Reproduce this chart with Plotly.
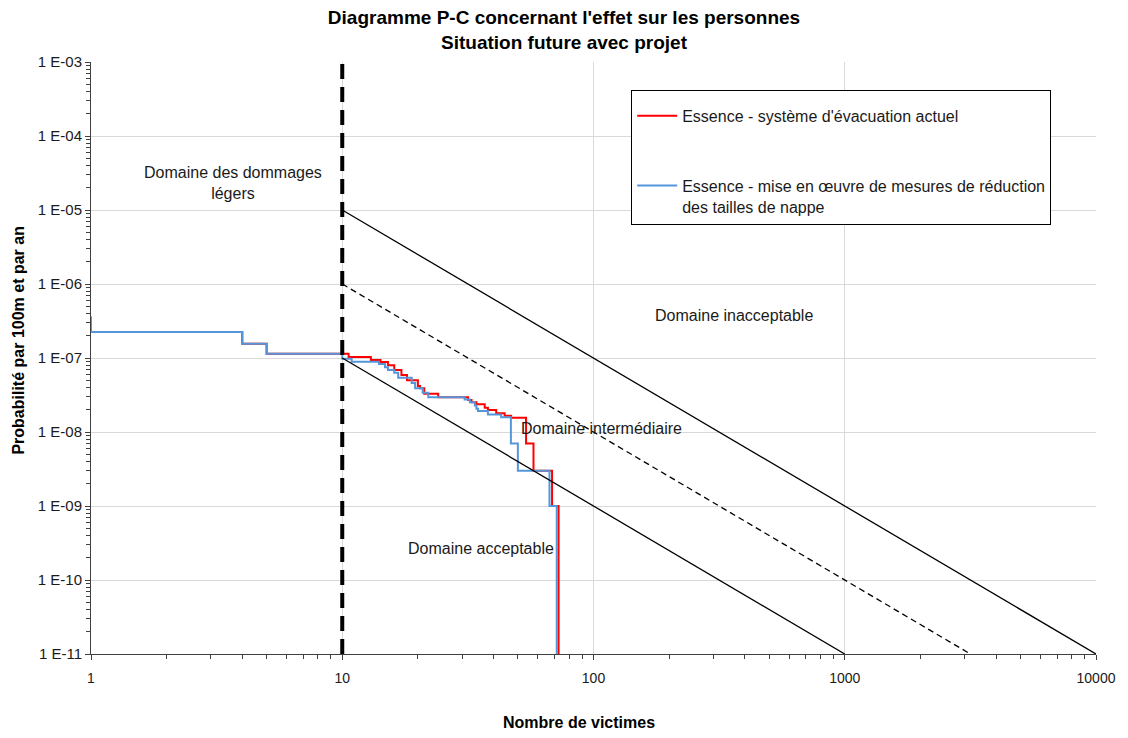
import plotly.graph_objects as go

# ---------------- data ----------------
# Essence - système d'évacuation actuel (step curve, level F holds from N onward)
red_N = [0.8, 1, 4, 5, 10.6, 13.0, 14.2, 15.2, 16.1, 17.2, 18.1, 20.0, 20.4, 21.2, 24.1,
         31.7, 32.7, 34.2, 36.9, 38.0, 41.0, 44.3, 47.0, 53.9, 57.7, 68.4, 72.6]
red_F = [3.5e-7, 2.25e-7, 1.56e-7, 1.14e-7, 1.03e-7, 9.4e-8, 8.8e-8, 8.0e-8, 6.9e-8, 5.9e-8,
         5.0e-8, 4.2e-8, 3.9e-8, 3.3e-8, 2.95e-8, 2.7e-8, 2.52e-8, 2.37e-8, 2.13e-8, 1.98e-8,
         1.79e-8, 1.66e-8, 1.56e-8, 7.0e-9, 3.0e-9, 1.0e-9, 1e-13]

# Essence - mise en œuvre de mesures de réduction des tailles de nappe
blue_N = [0.8, 1, 4, 5, 10, 10.9, 14.0, 14.8, 15.2, 16.1, 16.7, 18.9, 19.5, 20.9, 22.0,
          30.7, 32.2, 33.7, 34.2, 34.7, 38.0, 42.9, 46.9, 50.0, 66.8, 71.4]
blue_F = [3.5e-7, 2.25e-7, 1.56e-7, 1.14e-7, 9.8e-8, 8.9e-8, 8.3e-8, 7.5e-8, 6.9e-8, 6.3e-8,
          5.4e-8, 4.6e-8, 3.9e-8, 3.4e-8, 2.95e-8, 2.74e-8, 2.53e-8, 2.28e-8, 2.06e-8, 1.92e-8,
          1.73e-8, 1.58e-8, 7.0e-9, 3.0e-9, 1.0e-9, 1e-13]

# Criteria lines
upper_N = [10, 10000]
upper_F = [1e-5, 1e-11]
mid_N = [10, 3162.3]
mid_F = [1e-6, 1e-11]
lower_N = [10, 1000]
lower_F = [1e-7, 1e-11]
light_N = [10, 10]
light_F = [1e-11, 1e-3]

# Ticks
x_tickvals = [1, 10, 100, 1000, 10000]
x_ticktext = ["1", "10", "100", "1000", "10000"]
y_tickvals = [1e-3, 1e-4, 1e-5, 1e-6, 1e-7, 1e-8, 1e-9, 1e-10, 1e-11]
y_ticktext = ["1 E-03", "1 E-04", "1 E-05", "1 E-06", "1 E-07", "1 E-08", "1 E-09", "1 E-10", "1 E-11"]

name_red = "Essence - système d'évacuation actuel"
name_blue = "Essence - mise en œuvre de mesures de réduction<br>des tailles de nappe"

FONT = "Liberation Sans, Arial, sans-serif"

fig = go.Figure()

fig.add_trace(go.Scatter(x=red_N, y=red_F, mode="lines", line=dict(color="#FF0000", width=2, shape="hv"),
                         name=name_red, legendgroup="a"))
fig.add_trace(go.Scatter(x=blue_N, y=blue_F, mode="lines", line=dict(color="#5596DA", width=2, shape="hv"),
                         name=name_blue, legendgroup="b"))
fig.add_trace(go.Scatter(x=upper_N, y=upper_F, mode="lines", line=dict(color="black", width=1.3),
                         showlegend=False, hoverinfo="skip"))
fig.add_trace(go.Scatter(x=mid_N, y=mid_F, mode="lines", line=dict(color="black", width=1.3, dash="6px,4px"),
                         showlegend=False, hoverinfo="skip"))
fig.add_trace(go.Scatter(x=lower_N, y=lower_F, mode="lines", line=dict(color="black", width=1.3),
                         showlegend=False, hoverinfo="skip"))
fig.add_trace(go.Scatter(x=light_N, y=light_F, mode="lines", line=dict(color="black", width=4, dash="15px,8px"),
                         showlegend=False, hoverinfo="skip"))

annots = [
    dict(text="Domaine des dommages<br>légers", x=0.566, y=-4.63),
    dict(text="Domaine inacceptable", x=2.558, y=-6.42),
    dict(text="Domaine intermédiaire", x=2.03, y=-7.95),
    dict(text="Domaine acceptable", x=1.552, y=-9.57),
]
for a in annots:
    fig.add_annotation(x=a["x"], y=a["y"], xref="x", yref="y", text=a["text"], showarrow=False,
                       font=dict(size=16, color="#1a1a1a", family=FONT))

# axis titles
fig.add_annotation(text="<b>Nombre de victimes</b>", xref="paper", yref="paper", x=0.486, y=-0.115,
                   xanchor="center", yanchor="middle",
                   showarrow=False, font=dict(size=16, color="black", family=FONT))
fig.add_annotation(text="<b>Probabilité par 100m et par an</b>", xref="paper", yref="paper", x=-0.0723, y=0.53,
                   xanchor="center", yanchor="middle",
                   textangle=-90, showarrow=False, font=dict(size=16, color="black", family=FONT))

fig.update_layout(
    width=1128, height=738,
    margin=dict(l=91, r=24, t=62, b=84),
    paper_bgcolor="white", plot_bgcolor="white",
    font=dict(family=FONT, size=14, color="#1a1a1a"),
    title=dict(text="<b>Diagramme P-C concernant l'effet sur les personnes<br>Situation future avec projet</b>",
               x=0.5, xanchor="center", y=0.967, yanchor="middle", yref="container",
               font=dict(size=19, color="black", family=FONT)),
    legend=dict(x=0.5375, y=0.9527, xanchor="left", yanchor="top", bordercolor="black", borderwidth=1,
                bgcolor="white", font=dict(size=16, family=FONT, color="#1a1a1a"),
                title=dict(text=" ", font=dict(size=6)),
                traceorder="grouped", tracegroupgap=46, valign="top", itemwidth=40),
    showlegend=True,
)

fig.update_xaxes(type="log", range=[0, 4], tickmode="array", tickvals=x_tickvals, ticktext=x_ticktext,
                 showgrid=True, gridcolor="#d9d9d9", gridwidth=1,
                 showline=True, linecolor="#404040", linewidth=1, mirror=False,
                 ticks="outside", ticklen=5, tickcolor="#404040", ticklabelstandoff=6,
                 minor=dict(ticks="outside", ticklen=4, tickcolor="#404040", dtick="D1", showgrid=False),
                 tickfont=dict(size=14, color="#1a1a1a"), zeroline=False)
fig.update_yaxes(type="log", range=[-11, -3], tickmode="array", tickvals=y_tickvals, ticktext=y_ticktext,
                 showgrid=True, gridcolor="#d9d9d9", gridwidth=1,
                 showline=True, linecolor="#404040", linewidth=1, mirror=False,
                 ticks="outside", ticklen=5, tickcolor="#404040",
                 minor=dict(ticks="outside", ticklen=4, tickcolor="#404040", dtick="D1", showgrid=False),
                 tickfont=dict(size=15, color="#1a1a1a"), zeroline=False)

fig.write_html("out.html")
